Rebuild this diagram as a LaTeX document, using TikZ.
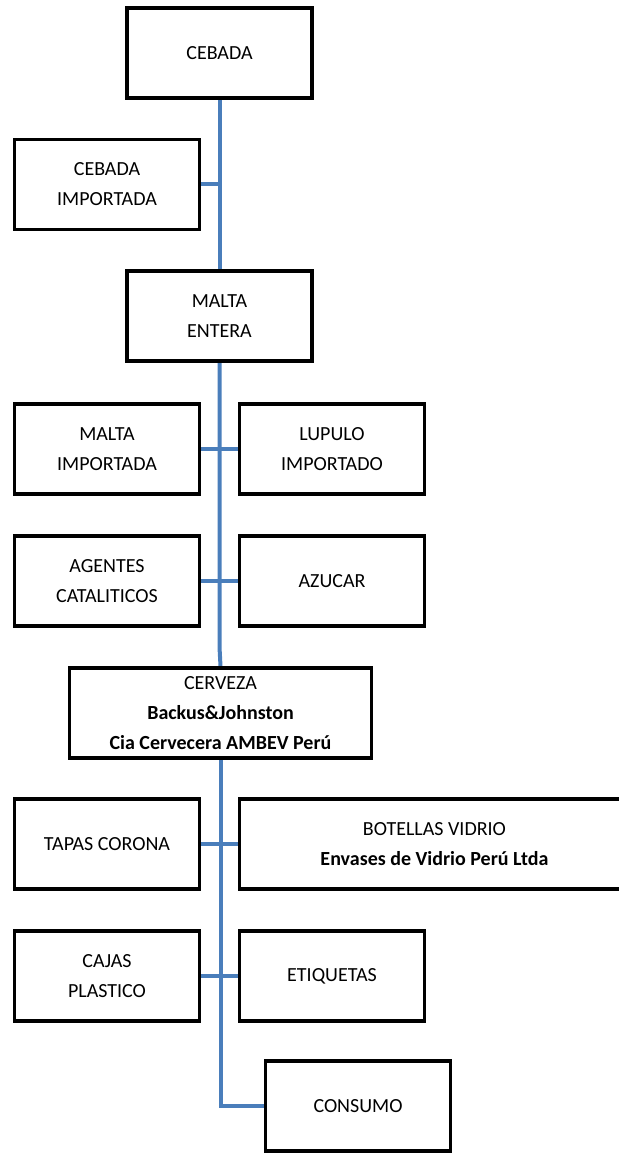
\documentclass[tikz,border=0pt]{standalone}
\usepackage{fontspec}
\setmainfont{Carlito}
\usetikzlibrary{backgrounds}
\definecolor{linkblue}{RGB}{74,126,187}
\tikzset{
  box/.style={draw=black, line width=3.6pt, fill=white, align=center,
    minimum width=185pt, minimum height=90pt, inner sep=0pt,
    font=\fontsize{20}{30}\selectfont},
  link/.style={draw=linkblue, line width=4pt}
}
\begin{document}
\begin{tikzpicture}[x=1pt,y=-1pt]
\useasboundingbox (0,0) rectangle (618,1155);
\node[box] (cebada) at (219.5,53) {CEBADA};
\node[box] (cebimp) at (107,184.5) {CEBADA\\IMPORTADA};
\node[box] (maltaent) at (219.5,316) {MALTA\\ENTERA};
\node[box] (maltaimp) at (107,449) {MALTA\\IMPORTADA};
\node[box] (lupulo) at (332,449) {LUPULO\\IMPORTADO};
\node[box] (agentes) at (107,581) {AGENTES\\CATALITICOS};
\node[box] (azucar) at (332,581) {AZUCAR};
\node[box, minimum width=302pt] (cerveza) at (220.5,713) {CERVEZA\\\textbf{Backus\&Johnston}\\\textbf{Cia Cervecera AMBEV Perú}};
\node[box] (tapas) at (107,844) {TAPAS CORONA};
\node[box, minimum width=390pt] (botellas) at (434.5,844) {BOTELLAS VIDRIO\\\textbf{Envases de Vidrio Perú Ltda}};
\node[box] (cajas) at (107,976) {CAJAS\\PLASTICO};
\node[box] (etiquetas) at (332,976) {ETIQUETAS};
\node[box] (consumo) at (358,1106) {CONSUMO};
\coordinate (jog) at (219.5,647);
\begin{scope}[on background layer]
\draw[link] (cebada.south) -- (maltaent.north);
\draw[link] (cebimp.east) -- (cebimp.east -| cebada.south);
\draw[link] (maltaent.south) -- (jog) -- (cerveza.north);
\draw[link] (maltaimp.east) -- (lupulo.west);
\draw[link] (agentes.east) -- (azucar.west);
\draw[link] (cerveza.south) |- (consumo.west);
\draw[link] (tapas.east) -- (botellas.west);
\draw[link] (cajas.east) -- (etiquetas.west);
\end{scope}
\end{tikzpicture}
\end{document}
